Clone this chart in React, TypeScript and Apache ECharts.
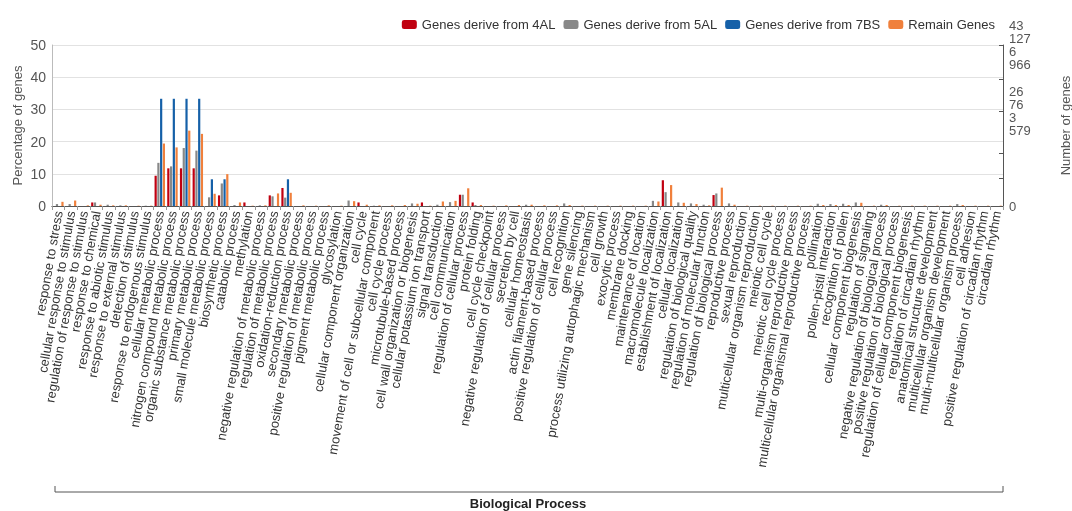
import React, { useEffect, useRef } from "react";
import * as echarts from "echarts";

const categories = [
  "response to stress", "cellular response to stimulus", "regulation of response to stimulus", "response to chemical",
  "response to abiotic stimulus", "response to external stimulus", "detection of stimulus", "response to endogenous stimulus",
  "cellular metabolic process", "nitrogen compound metabolic process", "organic substance metabolic process", "primary metabolic process",
  "small molecule metabolic process", "biosynthetic process", "catabolic process", "methylation",
  "negative regulation of metabolic process", "regulation of metabolic process", "oxidation-reduction process", "secondary metabolic process",
  "positive regulation of metabolic process", "pigment metabolic process", "glycosylation", "cellular component organization",
  "cell cycle", "movement of cell or subcellular component", "cell cycle process", "microtubule-based process",
  "cell wall organization or biogenesis", "cellular potassium ion transport", "signal transduction", "cell communication",
  "regulation of cellular process", "protein folding", "cell cycle checkpoint", "negative regulation of cellular process",
  "secretion by cell", "cellular homeostasis", "actin filament-based process", "positive regulation of cellular process",
  "cell recognition", "gene silencing", "process utilizing autophagic mechanism", "cell growth",
  "exocytic process", "membrane docking", "maintenance of location", "macromolecule localization",
  "establishment of localization", "cellular localization", "regulation of biological quality", "regulation of molecular function",
  "regulation of biological process", "reproductive process", "sexual reproduction", "multicellular organism reproduction",
  "meiotic cell cycle", "meiotic cell cycle process", "multi-organism reproductive process", "multicellular organismal reproductive process",
  "pollination", "pollen-pistil interaction", "recognition of pollen", "cellular component biogenesis",
  "regulation of signaling", "negative regulation of biological process", "positive regulation of biological process", "regulation of cellular component biogenesis",
  "regulation of circadian rhythm", "anatomical structure development", "multicellular organism development", "multi-multicellular organism process",
  "cell adhesion", "positive regulation of circadian rhythm", "circadian rhythm",
];

const genes4AL = [
  0, 0, 0, 1.1, 0, 0, 0, 0, 9.4, 11.7, 11.7, 11.7, 0, 3.3, 0, 1.1,
  0, 3.3, 5.6, 0, 0, 0, 0, 0, 1.1, 0, 0, 0, 0, 1.1, 0, 0,
  3.5, 1.1, 0, 0, 0, 0, 0, 0, 0, 0, 0, 0, 0, 0, 0, 0,
  8.0, 0, 0, 0, 3.4, 0, 0, 0, 0, 0, 0, 0, 0, 0, 0, 0,
  0, 0, 0, 0, 0, 0, 0, 0, 0, 0, 0,
];

const genes5AL = [
  0.6, 0.6, 0, 1.1, 0.4, 0.2, 0, 0.1, 13.4, 12.3, 18.0, 17.2, 2.7, 7.0, 0.3, 0,
  0.2, 3.0, 2.6, 0, 0, 0, 0, 1.7, 0, 0.1, 0, 0, 0.8, 0, 0.4, 1.2,
  3.5, 0.3, 0, 0, 0, 0.4, 0, 0, 0.8, 0, 0, 0, 0, 0, 0, 1.6,
  4.3, 1.1, 0.8, 0.4, 3.9, 0.8, 0, 0, 0, 0, 0, 0, 0.7, 0.6, 0.7, 1.1,
  0, 0.4, 0, 0, 0, 0, 0, 0.6, 0, 0, 0,
];

const genes7BS = [
  0, 0, 0, 0, 0, 0, 0, 0, 33.3, 33.3, 33.3, 33.3, 8.3, 8.3, 0, 0,
  0, 0, 8.3, 0, 0, 0, 0, 0, 0, 0, 0, 0, 0, 0, 0, 0,
  0, 0, 0, 0, 0, 0, 0, 0, 0, 0, 0, 0, 0, 0, 0, 0,
  0, 0, 0, 0, 0, 0, 0, 0, 0, 0, 0, 0, 0, 0, 0, 0,
  0, 0, 0, 0, 0, 0, 0, 0, 0, 0, 0,
];

const remainGenes = [
  1.3, 1.7, 0.2, 0.4, 0.2, 0.2, 0.1, 0.1, 19.4, 18.2, 23.4, 22.4, 3.8, 9.9, 1.1, 0.1,
  0.2, 3.9, 4.1, 0.2, 0.1, 0.2, 0.1, 1.5, 0.4, 0.2, 0.2, 0.3, 0.7, 0.1, 1.4, 1.6,
  5.5, 0.3, 0.1, 0.2, 0.3, 0.4, 0.2, 0.2, 0.3, 0.1, 0.1, 0.1, 0.1, 0.1, 0.1, 1.4,
  6.5, 1.0, 0.6, 0.2, 5.7, 0.4, 0.1, 0.1, 0.1, 0.1, 0.1, 0.1, 0.3, 0.3, 0.3, 1.0,
  0.1, 0.3, 0.1, 0.1, 0.1, 0.1, 0.1, 0.3, 0.1, 0.1, 0.1,
];

const seriesNames = ["Genes derive from 4AL", "Genes derive from 5AL", "Genes derive from 7BS", "Remain Genes"];
const seriesColors = ["#C00010", "#888888", "#1560A8", "#F0803C"];

const rightTickValues = [0, 8.5, 16.5, 29.5, 39.5, 50];
const rightLabelValues = [0, 29.5, 49.9];
const rightLabelTexts = ["0", "26\n76\n3\n579", "43\n127\n6\n966"];

const FONT = "'Liberation Sans', Arial, Helvetica, sans-serif";

export default function App() {
  const ref = useRef<HTMLDivElement>(null);

  useEffect(() => {
    if (!ref.current) return;
    const chart = echarts.init(ref.current, undefined, { renderer: "svg" });
    const data = [genes4AL, genes5AL, genes7BS, remainGenes];
    chart.setOption({
      animation: false,
      textStyle: { fontFamily: FONT },
      color: seriesColors,
      legend: {
        right: 72,
        top: 13,
        itemWidth: 15,
        itemHeight: 9,
        itemGap: 8,
        icon: "roundRect",
        textStyle: { fontSize: 13, color: "#333", fontFamily: FONT },
        data: seriesNames,
      },
      grid: { left: 52, right: 69, top: 45, bottom: 305, containLabel: false, outerBoundsMode: "none" },
      xAxis: [
        {
          type: "category",
          data: categories,
          axisLine: { lineStyle: { color: "#999" } },
          axisTick: { show: true, length: 4, lineStyle: { color: "#999" } },
          axisLabel: { interval: 0, rotate: 80, fontSize: 13, color: "#333", margin: 5, fontFamily: FONT },
        },
        {
          type: "category",
          data: categories,
          position: "top",
          axisLine: { show: true, lineStyle: { color: "#555" } },
          axisTick: { show: false },
          axisLabel: { show: false },
        },
      ],
      yAxis: [
        {
          type: "value",
          min: 0,
          max: 50,
          interval: 10,
          name: "Percentage of genes",
          nameLocation: "middle",
          nameRotate: 90,
          nameGap: 28,
          nameMoveOverlap: false,
          nameTextStyle: { fontSize: 13, color: "#555" },
          axisLine: { show: true, lineStyle: { color: "#bbb" } },
          axisTick: { show: false },
          axisLabel: { fontSize: 14, color: "#555", margin: 6 },
          splitLine: { show: true, lineStyle: { color: "#e2e2e2", width: 1 } },
        },
        {
          type: "value",
          position: "right",
          min: 0,
          max: 50,
          name: "Number of genes",
          nameLocation: "middle",
          nameRotate: 90,
          nameGap: 56,
          nameTextStyle: { fontSize: 13, color: "#555" },
          axisLine: { show: true, lineStyle: { color: "#555" } },
          axisTick: { show: true, inside: true, length: 4, customValues: rightTickValues, lineStyle: { color: "#555" } },
          axisLabel: {
            customValues: rightLabelValues,
            showMaxLabel: true,
            hideOverlap: false,
            fontSize: 13,
            color: "#555",
            lineHeight: 13,
            margin: 6,
            padding: [0, 0, 12, 0],
            formatter: (v: number) => {
              const i = rightLabelValues.indexOf(v);
              return i >= 0 ? rightLabelTexts[i] : "";
            },
          },
          splitLine: { show: false },
        },
      ],
      series: seriesNames.map((name, i) => ({
        name,
        type: "bar",
        data: data[i],
        barWidth: 2.2,
        barGap: "25%",
        itemStyle: { color: seriesColors[i] },
      })),
      graphic: [
        {
          type: "polyline",
          shape: { points: [[55, 486], [55, 492], [1003, 492], [1003, 486]] },
          style: { stroke: "#555", fill: "none", lineWidth: 1 },
        },
        {
          type: "text",
          x: 528,
          y: 503,
          style: {
            text: "Biological Process",
            fontSize: 13,
            fontWeight: "bold",
            fontFamily: "'Liberation Sans Narrow', 'Arial Narrow', " + FONT,
            fill: "#222",
            align: "center",
            verticalAlign: "middle",
          },
        },
      ],
    });
    return () => chart.dispose();
  }, []);

  return <div ref={ref} style={{ position: "fixed", left: 0, top: 0, width: 1072, height: 511 }} />;
}
